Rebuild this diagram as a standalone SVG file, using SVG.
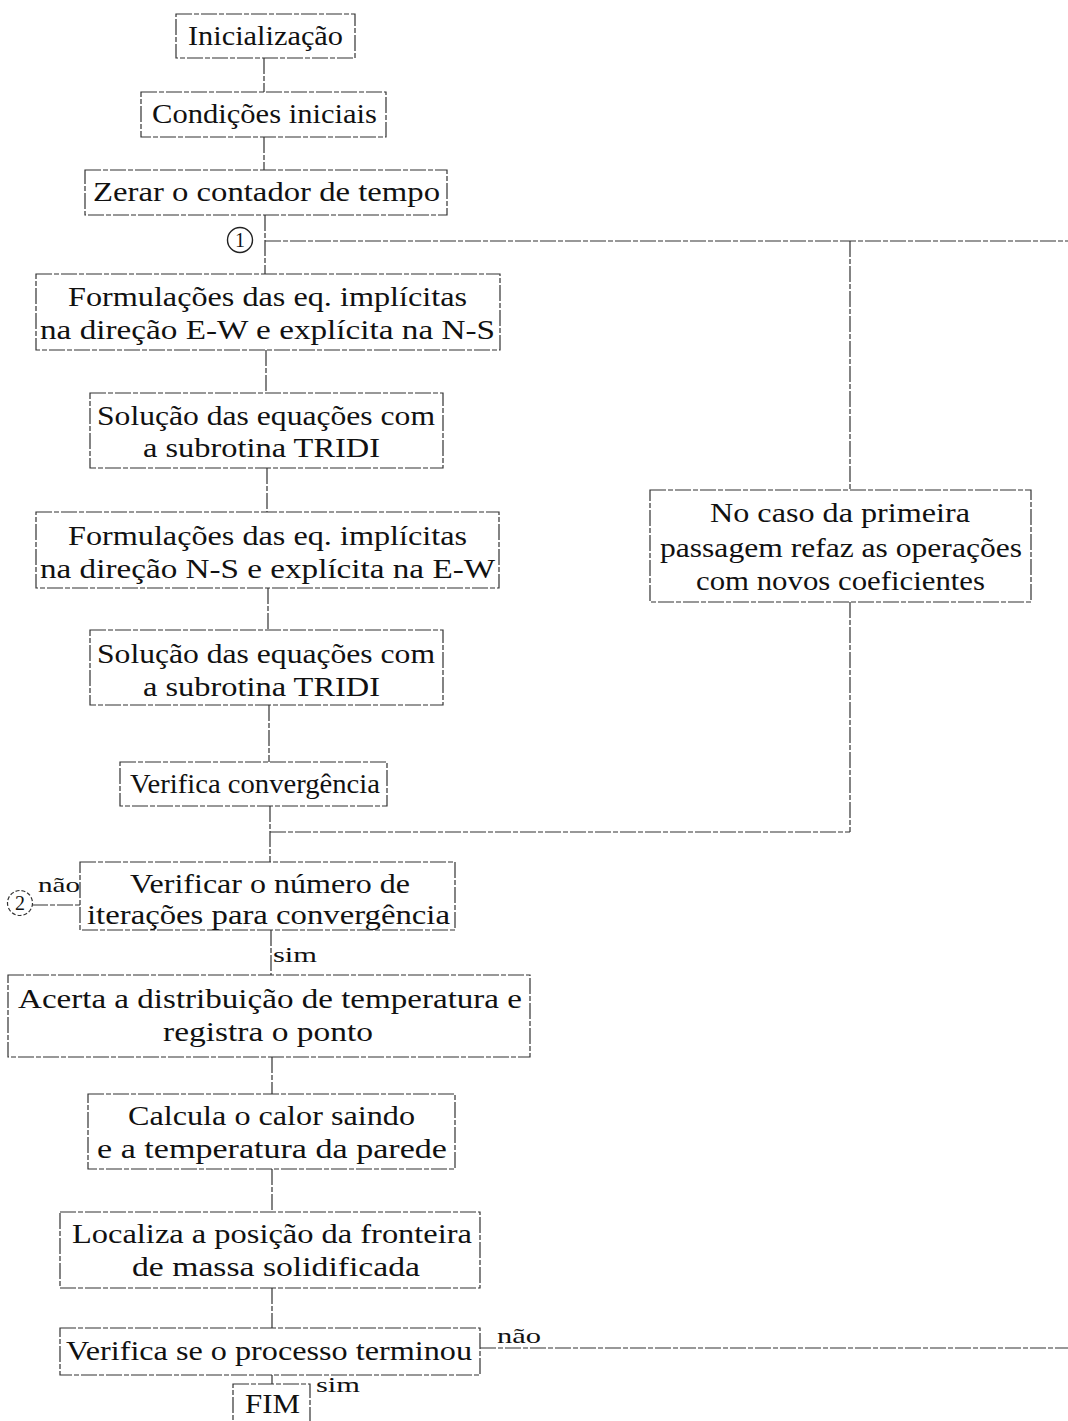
<svg xmlns="http://www.w3.org/2000/svg" width="1068" height="1421" viewBox="0 0 1068 1421">
<style>
.b{fill:#fff;stroke:#333;stroke-width:1.2;stroke-dasharray:16 2 5 2}
.c{fill:none;stroke:#333;stroke-width:1.2;stroke-dasharray:16 2 5 2}
.t{font-family:"Liberation Serif",serif;font-size:27px;fill:#111}
.s{font-family:"Liberation Serif",serif;font-size:21px;fill:#111}
.n{font-family:"Liberation Serif",serif;font-size:20px;fill:#111;text-anchor:middle}
</style>
<rect width="1068" height="1421" fill="#fff"/>
<g id="connectors">
<line class="c" x1="264" y1="58" x2="264" y2="92"/>
<line class="c" x1="264" y1="137" x2="264" y2="170"/>
<line class="c" x1="265" y1="215" x2="265" y2="274"/>
<line class="c" x1="265" y1="241" x2="1068" y2="241"/>
<line class="c" x1="266" y1="350" x2="266" y2="393"/>
<line class="c" x1="267" y1="468" x2="267" y2="512"/>
<line class="c" x1="268" y1="588" x2="268" y2="630"/>
<line class="c" x1="269" y1="705" x2="269" y2="762"/>
<line class="c" x1="270" y1="806" x2="270" y2="862"/>
<line class="c" x1="270" y1="832" x2="850" y2="832"/>
<line class="c" x1="850" y1="241" x2="850" y2="490"/>
<line class="c" x1="850" y1="602" x2="850" y2="832"/>
<line class="c" x1="32" y1="905" x2="80" y2="905"/>
<line class="c" x1="271" y1="930" x2="271" y2="975"/>
<line class="c" x1="272" y1="1057" x2="272" y2="1094"/>
<line class="c" x1="272" y1="1169" x2="272" y2="1212"/>
<line class="c" x1="272" y1="1288" x2="272" y2="1328"/>
<line class="c" x1="480" y1="1348" x2="1068" y2="1348"/>
<line class="c" x1="272" y1="1375" x2="272" y2="1384"/>
<text class="s" x="38" y="892" textLength="42" lengthAdjust="spacingAndGlyphs">não</text>
<text class="s" x="273" y="962" textLength="44" lengthAdjust="spacingAndGlyphs">sim</text>
<text class="s" x="497" y="1343" textLength="44" lengthAdjust="spacingAndGlyphs">não</text>
<text class="s" x="316" y="1392" textLength="44" lengthAdjust="spacingAndGlyphs">sim</text>
</g>
<g id="c1"><circle cx="240" cy="240" r="12.5" fill="none" stroke="#222" stroke-width="1.4"/><text class="n" x="240" y="247">1</text></g>
<g id="c2"><circle cx="20" cy="903" r="12.5" fill="none" stroke="#333" stroke-width="1.2" stroke-dasharray="4 2"/><text class="n" x="20" y="910">2</text></g>
<g id="n1"><rect class="b" x="176" y="14" width="179" height="44"/><text class="t" x="188" y="45" textLength="155" lengthAdjust="spacingAndGlyphs">Inicialização</text></g>
<g id="n2"><rect class="b" x="141" y="92" width="245" height="45"/><text class="t" x="152" y="123" textLength="225" lengthAdjust="spacingAndGlyphs">Condições iniciais</text></g>
<g id="n3"><rect class="b" x="85" y="170" width="362" height="45"/><text class="t" x="93" y="201" textLength="347" lengthAdjust="spacingAndGlyphs">Zerar o contador de tempo</text></g>
<g id="n4"><rect class="b" x="36" y="274" width="464" height="76"/><text class="t" x="68" y="306" textLength="399" lengthAdjust="spacingAndGlyphs">Formulações das eq. implícitas</text><text class="t" x="40" y="339" textLength="455" lengthAdjust="spacingAndGlyphs">na direção E-W e explícita na N-S</text></g>
<g id="n5"><rect class="b" x="90" y="393" width="353" height="75"/><text class="t" x="97" y="425" textLength="338" lengthAdjust="spacingAndGlyphs">Solução das equações com</text><text class="t" x="143" y="457" textLength="237" lengthAdjust="spacingAndGlyphs">a subrotina TRIDI</text></g>
<g id="n6"><rect class="b" x="36" y="512" width="463" height="76"/><text class="t" x="68" y="545" textLength="399" lengthAdjust="spacingAndGlyphs">Formulações das eq. implícitas</text><text class="t" x="40" y="578" textLength="455" lengthAdjust="spacingAndGlyphs">na direção N-S e explícita na E-W</text></g>
<g id="n7"><rect class="b" x="90" y="630" width="353" height="75"/><text class="t" x="97" y="663" textLength="338" lengthAdjust="spacingAndGlyphs">Solução das equações com</text><text class="t" x="143" y="696" textLength="237" lengthAdjust="spacingAndGlyphs">a subrotina TRIDI</text></g>
<g id="n8"><rect class="b" x="120" y="762" width="267" height="44"/><text class="t" x="130" y="793" textLength="250" lengthAdjust="spacingAndGlyphs">Verifica convergência</text></g>
<g id="n9"><rect class="b" x="650" y="490" width="381" height="112"/><text class="t" x="710" y="522" textLength="260" lengthAdjust="spacingAndGlyphs">No caso da primeira</text><text class="t" x="660" y="557" textLength="362" lengthAdjust="spacingAndGlyphs">passagem refaz as operações</text><text class="t" x="696" y="590" textLength="289" lengthAdjust="spacingAndGlyphs">com novos coeficientes</text></g>
<g id="n10"><rect class="b" x="80" y="862" width="375" height="68"/><text class="t" x="130" y="893" textLength="280" lengthAdjust="spacingAndGlyphs">Verificar o número de</text><text class="t" x="87" y="924" textLength="363" lengthAdjust="spacingAndGlyphs">iterações para convergência</text></g>
<g id="n11"><rect class="b" x="8" y="975" width="522" height="82"/><text class="t" x="18" y="1008" textLength="504" lengthAdjust="spacingAndGlyphs">Acerta a distribuição de temperatura e</text><text class="t" x="163" y="1041" textLength="210" lengthAdjust="spacingAndGlyphs">registra o ponto</text></g>
<g id="n12"><rect class="b" x="88" y="1094" width="367" height="75"/><text class="t" x="128" y="1125" textLength="287" lengthAdjust="spacingAndGlyphs">Calcula o calor saindo</text><text class="t" x="97" y="1158" textLength="350" lengthAdjust="spacingAndGlyphs">e a temperatura da parede</text></g>
<g id="n13"><rect class="b" x="60" y="1212" width="420" height="76"/><text class="t" x="72" y="1243" textLength="400" lengthAdjust="spacingAndGlyphs">Localiza a posição da fronteira</text><text class="t" x="132" y="1276" textLength="288" lengthAdjust="spacingAndGlyphs">de massa solidificada</text></g>
<g id="n14"><rect class="b" x="60" y="1328" width="420" height="47"/><text class="t" x="66" y="1360" textLength="406" lengthAdjust="spacingAndGlyphs">Verifica se o processo terminou</text></g>
<g id="n15"><rect class="b" x="233" y="1384" width="77" height="50"/><text class="t" x="245" y="1413" textLength="55" lengthAdjust="spacingAndGlyphs">FIM</text></g>
</svg>
